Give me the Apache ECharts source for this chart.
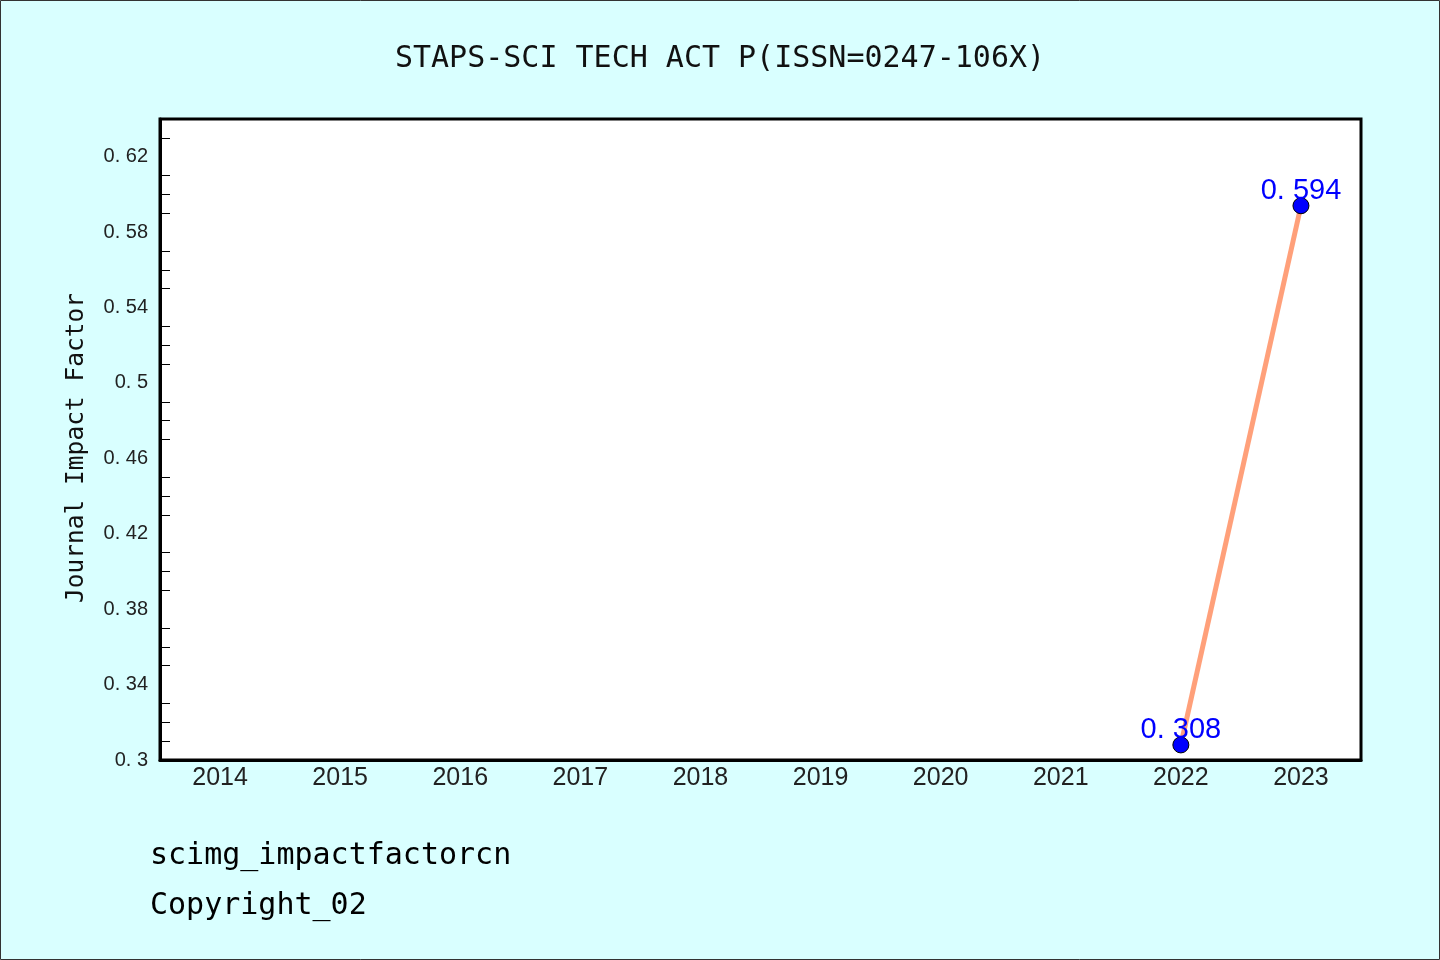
<!DOCTYPE html>
<html>
<head>
<meta charset="utf-8">
<script src="https://cdn.jsdelivr.net/npm/echarts@6/dist/echarts.min.js"></script>
<style>
html,body{margin:0;padding:0;background:#D9FFFF;}
#c{width:1440px;height:960px;}
</style>
</head>
<body>
<div id="c"></div>
<script>
const titleText = 'STAPS-SCI TECH ACT P(ISSN=0247-106X)';
const years = ['2014','2015','2016','2017','2018','2019','2020','2021','2022','2023'];
const impactFactor = [null,null,null,null,null,null,null,null,0.308,0.594];
const yAxisName = 'Journal Impact Factor';
const footerLines = ['scimg_impactfactorcn','Copyright_02'];

const mono = "'DejaVu Sans Mono', monospace";
const sans = "'Liberation Sans', Arial, sans-serif";
const chart = echarts.init(document.getElementById('c'));
chart.setOption({
  backgroundColor: '#D9FFFF',
  animation: false,
  title: {
    text: titleText,
    left: 'center',
    top: 39,
    textStyle: {fontFamily: mono, fontSize: 30, fontWeight: 'normal', color: '#111'}
  },
  grid: {
    left: 160, right: 79, top: 119, bottom: 200,
    show: true, backgroundColor: '#fff', borderColor: '#000', borderWidth: 3
  },
  xAxis: {
    type: 'category',
    data: years,
    boundaryGap: true,
    axisLine: {lineStyle: {color: '#000', width: 3}},
    axisTick: {inside: true, alignWithLabel: true, length: 6, lineStyle: {color: '#000', width: 1}},
    axisLabel: {fontFamily: sans, fontSize: 25, color: '#222', margin: 6},
    splitLine: {show: false}
  },
  yAxis: {
    type: 'value',
    min: 0.3, max: 0.64, interval: 0.04,
    axisLine: {show: true, lineStyle: {color: '#000', width: 3}},
    axisTick: {inside: true, length: 10, lineStyle: {color: '#000', width: 1}},
    minorTick: {show: true, splitNumber: 4, length: 10, lineStyle: {color: '#000', width: 1}},
    axisLabel: {
      fontFamily: sans, fontSize: 20, color: '#222', margin: 12,
      showMaxLabel: false,
      formatter: v => { const s = String(parseFloat(v.toFixed(4))); return s.replace('.', '. '); }
    },
    splitLine: {show: false}
  },
  series: [{
    type: 'line',
    data: impactFactor,
    connectNulls: false,
    lineStyle: {color: '#FFA07A', width: 5},
    symbol: 'circle',
    symbolSize: 16,
    itemStyle: {color: '#0000FF', borderColor: '#000', borderWidth: 1},
    label: {
      show: true, position: 'top', distance: -8,
      fontFamily: sans, fontSize: 29, color: '#0000FF',
      formatter: p => String(p.value).replace('.', '. ')
    },
    z: 3
  }],
  graphic: [
    {type: 'rect', shape: {x: 0.5, y: 0.5, width: 1439, height: 959}, style: {fill: 'none', stroke: '#333', lineWidth: 1}, silent: true},
    {type: 'text', x: 77, y: 448, rotation: Math.PI / 2,
      style: {text: yAxisName, font: "24.5px 'DejaVu Sans Mono', monospace", fill: '#111', textAlign: 'center', textVerticalAlign: 'middle'}},
    {type: 'text', left: 150, top: 841, style: {text: footerLines[0], font: "30px 'DejaVu Sans Mono', monospace", fill: '#000'}},
    {type: 'text', left: 150, top: 891, style: {text: footerLines[1], font: "30px 'DejaVu Sans Mono', monospace", fill: '#000'}}
  ]
});
</script>
</body>
</html>
